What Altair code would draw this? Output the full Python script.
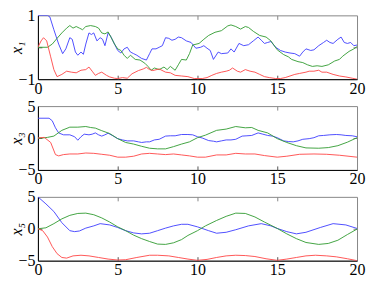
import altair as alt
import pandas as pd

X_TICKS = [0, 5, 10, 15, 20]
Y1_TICKS = [-1, 0, 1]
Y35_TICKS = [-5, 0, 5]
SERIES = ["blue", "green", "red"]
COLORS = ["#3c3cff", "#2f9a2f", "#ff4545"]

blue1 = [(0,1),(0.6,1),(0.75,0.95),(1.0,0.55),(1.3,0.1),(1.55,-0.2),(1.75,-0.05),(2.0,0.3),(2.15,0.25),(2.35,-0.15),(2.5,-0.25),(2.7,-0.15),(2.85,-0.22),(3.0,0.1),(3.2,0.45),(3.35,0.4),(3.5,0.45),(3.7,0.2),(3.9,0.3),(4.05,0.25),(4.2,0.05),(4.4,0.45),(4.55,0.35),(4.8,0.1),(5.0,-0.1),(5.2,-0.18),(5.4,-0.05),(5.6,0.0),(5.8,-0.15),(6.0,-0.2),(6.2,-0.25),(6.5,-0.35),(6.8,-0.4),(7.0,-0.2),(7.15,-0.05),(7.4,-0.05),(7.6,0.0),(7.8,0.05),(8.0,0.3),(8.2,0.28),(8.4,0.22),(8.6,0.25),(8.8,0.32),(9.0,0.3),(9.3,0.2),(9.6,0.15),(9.9,-0.03),(10.2,0.0),(10.4,0.05),(10.6,-0.03),(10.8,-0.1),(11.0,-0.38),(11.3,-0.15),(11.5,-0.2),(11.9,-0.18),(12.1,-0.05),(12.3,-0.15),(12.6,0.12),(12.9,0.05),(13.2,0.08),(13.5,0.2),(13.8,0.32),(14.0,0.22),(14.2,0.12),(14.4,0.15),(14.6,0.18),(14.9,0.0),(15.2,-0.1),(15.5,-0.15),(15.8,-0.18),(16.1,-0.2),(16.4,-0.28),(16.6,-0.15),(16.8,-0.05),(17.1,-0.1),(17.3,-0.08),(17.6,0.05),(17.9,0.15),(18.1,0.22),(18.3,0.15),(18.5,0.12),(18.8,0.25),(19.0,0.32),(19.2,0.15),(19.4,0.12),(19.6,0.15),(19.8,0.05),(20,0.07)]
green1 = [(0,0),(0.6,0),(0.9,0.1),(1.2,0.28),(1.5,0.45),(1.8,0.6),(2.0,0.68),(2.2,0.6),(2.4,0.65),(2.6,0.6),(2.8,0.55),(3.0,0.65),(3.3,0.68),(3.6,0.65),(3.8,0.6),(4.0,0.45),(4.2,0.42),(4.4,0.48),(4.6,0.3),(4.8,0.1),(5.0,-0.05),(5.2,-0.1),(5.4,-0.25),(5.6,-0.35),(5.8,-0.25),(6.1,-0.38),(6.4,-0.4),(6.7,-0.5),(6.9,-0.6),(7.1,-0.72),(7.3,-0.65),(7.6,-0.7),(7.9,-0.62),(8.1,-0.7),(8.3,-0.6),(8.6,-0.72),(8.8,-0.55),(9.0,-0.38),(9.3,-0.4),(9.5,-0.2),(9.7,0.07),(10.1,0.12),(10.4,0.25),(10.7,0.37),(11.1,0.47),(11.5,0.52),(11.9,0.67),(12.1,0.7),(12.4,0.65),(12.7,0.57),(13.0,0.65),(13.2,0.62),(13.5,0.5),(13.9,0.37),(14.3,0.32),(14.6,0.2),(15.0,-0.08),(15.4,-0.23),(15.7,-0.3),(15.9,-0.38),(16.3,-0.45),(16.6,-0.48),(16.9,-0.55),(17.2,-0.6),(17.5,-0.58),(17.8,-0.6),(18.2,-0.55),(18.6,-0.43),(18.9,-0.38),(19.1,-0.28),(19.5,-0.13),(19.8,-0.05),(20,0.02)]
red1 = [(0,0),(0.2,0.2),(0.35,0.3),(0.55,0.2),(0.8,-0.3),(1.0,-0.7),(1.2,-0.92),(1.5,-0.85),(1.8,-0.75),(2.1,-0.78),(2.4,-0.8),(2.7,-0.72),(3.0,-0.7),(3.2,-0.62),(3.4,-0.75),(3.6,-0.88),(3.8,-0.82),(4.0,-0.78),(4.3,-0.88),(4.5,-0.93),(4.8,-0.97),(5.0,-0.98),(5.3,-0.95),(5.6,-0.97),(5.9,-0.83),(6.3,-0.73),(6.6,-0.68),(6.8,-0.63),(7.0,-0.7),(7.2,-0.73),(7.6,-0.68),(8.0,-0.78),(8.3,-0.8),(8.6,-0.88),(9.0,-0.9),(9.4,-0.92),(9.8,-0.98),(10.3,-0.98),(10.6,-0.95),(10.9,-0.88),(11.2,-0.82),(11.5,-0.78),(11.8,-0.75),(12.0,-0.72),(12.2,-0.65),(12.5,-0.75),(12.7,-0.78),(13.0,-0.7),(13.3,-0.75),(13.6,-0.78),(13.9,-0.85),(14.2,-0.92),(14.5,-0.95),(14.9,-0.98),(15.2,-0.98),(15.5,-0.95),(15.8,-0.9),(16.1,-0.85),(16.4,-0.82),(16.8,-0.78),(17.0,-0.75),(17.3,-0.75),(17.6,-0.72),(17.8,-0.78),(18.1,-0.78),(18.5,-0.85),(18.9,-0.9),(19.3,-0.93),(19.7,-0.97),(20,-1.0)]

blue3 = [(0,3.1),(0.7,3.1),(0.9,2.7),(1.1,1.6),(1.3,0.8),(1.6,0.5),(2.0,0.5),(2.3,0.2),(2.5,-0.35),(2.7,0.2),(2.9,0.6),(3.2,0.5),(3.4,0.6),(3.6,0.8),(3.8,0.5),(4.0,0.3),(4.2,0.5),(4.4,0.75),(4.7,0.35),(5.0,-0.1),(5.3,-0.3),(5.6,-0.45),(6.0,-0.45),(6.3,-0.6),(6.5,-0.7),(6.8,-0.6),(7.0,-0.6),(7.3,-0.3),(7.6,-0.2),(8.0,0.3),(8.3,0.35),(8.6,0.35),(9.0,0.55),(9.4,0.55),(9.7,0.5),(10.0,0.2),(10.3,0.0),(10.7,-0.4),(11.0,-0.5),(11.2,-0.6),(11.5,-0.45),(11.8,-0.3),(12.1,-0.3),(12.4,-0.2),(12.8,0.3),(13.1,0.35),(13.4,0.4),(13.8,0.8),(14.1,0.6),(14.4,0.4),(14.7,0.3),(15.0,0.05),(15.4,-0.45),(15.7,-0.55),(16.0,-0.6),(16.3,-0.45),(16.6,-0.2),(17.0,-0.1),(17.3,0.05),(17.6,0.35),(17.9,0.4),(18.3,0.5),(18.7,0.55),(19.0,0.5),(19.3,0.4),(19.7,0.35),(20,0.2)]
green3 = [(0,0),(0.3,0),(0.6,0.1),(1.0,0.3),(1.5,1.2),(2.0,1.7),(2.5,1.7),(3.0,1.8),(3.3,1.65),(3.6,1.55),(4.0,1.15),(4.5,0.7),(5.0,-0.1),(5.5,-0.7),(6.0,-0.95),(6.5,-1.3),(7.0,-1.6),(7.5,-1.7),(8.0,-1.7),(8.5,-1.35),(9.0,-0.95),(9.5,-0.6),(10.0,0.05),(10.5,0.45),(11.2,1.2),(11.8,1.4),(12.4,1.8),(13.0,1.6),(13.4,1.65),(13.8,1.2),(14.4,0.8),(15.0,-0.1),(15.6,-0.7),(16.2,-1.2),(16.8,-1.55),(17.6,-1.6),(18.2,-1.5),(18.8,-1.2),(19.4,-0.65),(20,0.05)]
red3 = [(0,0),(0.4,0.1),(0.8,-0.7),(1.1,-2.6),(1.3,-2.8),(1.6,-2.6),(2.0,-2.5),(2.5,-2.5),(3.0,-2.35),(3.5,-2.4),(4.0,-2.55),(4.5,-2.7),(5.0,-3.0),(5.5,-3.0),(6.0,-2.85),(6.5,-2.5),(7.0,-2.4),(7.5,-2.5),(8.0,-2.6),(8.5,-2.5),(9.0,-2.65),(9.5,-2.8),(10.0,-3.0),(10.5,-3.0),(11.2,-2.65),(11.8,-2.65),(12.4,-2.4),(13.0,-2.5),(13.6,-2.5),(14.2,-2.75),(15.0,-3.0),(15.6,-2.85),(16.4,-2.55),(17.3,-2.5),(18.1,-2.55),(18.9,-2.7),(20,-3.0)]

blue5 = [(0,5),(0.5,3.9),(1.0,2.7),(1.5,0.95),(2.0,-0.3),(2.3,-0.45),(2.6,-0.35),(3.0,0.1),(3.5,0.45),(3.9,0.8),(4.5,0.6),(5.0,0.2),(5.5,-0.3),(6.0,-0.65),(6.5,-0.8),(7.0,-0.7),(7.5,-0.3),(8.0,0.1),(8.5,0.45),(9.0,0.7),(9.4,0.7),(10.0,0.3),(10.7,-0.3),(11.2,-0.7),(11.8,-0.55),(12.4,-0.15),(13.2,0.45),(14.0,0.8),(14.6,0.45),(15.0,0.05),(15.6,-0.45),(16.2,-0.8),(16.8,-0.55),(17.7,0.2),(18.5,0.8),(19.3,0.6),(20,0.05)]
green5 = [(0,0),(0.5,0.15),(1.0,0.8),(1.5,1.55),(2.0,2.1),(2.5,2.4),(3.0,2.45),(3.5,2.2),(4.0,1.7),(4.5,1.05),(5.0,0.3),(5.5,-0.3),(6.0,-1.0),(6.5,-1.55),(7.0,-2.0),(7.5,-2.4),(8.0,-2.45),(8.5,-2.2),(9.0,-1.7),(9.4,-1.05),(10.0,-0.3),(10.5,0.45),(11.2,1.3),(11.8,1.95),(12.4,2.45),(13.0,2.4),(13.6,1.85),(14.2,1.05),(15.0,0.05),(15.6,-0.8),(16.2,-1.55),(16.8,-2.15),(17.6,-2.45),(18.2,-2.3),(18.8,-1.8),(19.4,-0.9),(20,-0.05)]
red5 = [(0,0),(0.3,-0.3),(0.6,-1.3),(0.9,-2.8),(1.2,-3.9),(1.5,-4.5),(1.8,-4.6),(2.2,-4.25),(2.7,-4.15),(3.2,-4.25),(3.8,-4.5),(4.4,-4.75),(5.0,-4.9),(5.5,-4.85),(6.2,-4.5),(7.0,-4.15),(7.5,-4.15),(8.2,-4.25),(8.8,-4.5),(9.4,-4.75),(10.0,-4.95),(10.6,-4.8),(11.2,-4.5),(11.8,-4.25),(12.4,-4.15),(13.0,-4.2),(13.6,-4.35),(14.3,-4.7),(15.0,-4.95),(15.6,-4.75),(16.2,-4.5),(16.8,-4.25),(17.4,-4.15),(18.1,-4.25),(18.7,-4.4),(19.4,-4.7),(20,-5.0)]

SERIF = "Liberation Serif"


def frame(b, g, r):
    rows = []
    for name, pts in zip(SERIES, (b, g, r)):
        for t, v in pts:
            rows.append({"t": t, "v": v, "s": name})
    return pd.DataFrame(rows)


def panel(df, ydom, yticks, title, h):
    xs = alt.Scale(domain=[0, 20], nice=False, zero=False)
    ys = alt.Scale(domain=ydom, nice=False, zero=False)
    color = alt.Color("s:N", scale=alt.Scale(domain=SERIES, range=COLORS), legend=None)
    main = alt.Chart(df).mark_line(strokeWidth=0.9, clip=True).encode(
        x=alt.X("t:Q", scale=xs, axis=alt.Axis(
            values=X_TICKS, format="d", title=None, grid=False, tickSize=0,
            domainColor="black", domainWidth=1, labelFont=SERIF, labelFontSize=16,
            labelColor="black", labelPadding=1, labelFlush=False)),
        y=alt.Y("v:Q", scale=ys, axis=alt.Axis(
            values=yticks, format="d", title=title, grid=False, tickSize=0,
            domainColor="black", domainWidth=1, labelFont=SERIF, labelFontSize=16,
            labelColor="black", labelPadding=3, labelFlush=False, titleFont=SERIF,
            titleFontSize=16, titleFontStyle="italic", titleFontWeight="normal",
            titleColor="black", titlePadding=-5, minExtent=18, maxExtent=18)),
        color=color,
    )
    inner_bl = alt.Chart(df).mark_line(opacity=0).encode(
        x=alt.X("t:Q", scale=xs, axis=alt.Axis(
            orient="bottom", offset=-4, values=X_TICKS[1:-1], labels=False, domain=False,
            tickSize=4, tickColor="#555", title=None, grid=False)),
        y=alt.Y("v:Q", scale=ys, axis=alt.Axis(
            orient="left", offset=-4, values=yticks[1:-1], labels=False, domain=False,
            tickSize=4, tickColor="#555", title=None, grid=False)),
        detail="s:N",
    )
    inner_tr = alt.Chart(df).mark_line(opacity=0).encode(
        x=alt.X("t:Q", scale=xs, axis=alt.Axis(
            orient="top", offset=-4, values=X_TICKS[1:-1], labels=False, domain=False,
            tickSize=4, tickColor="#888", title=None, grid=False)),
        y=alt.Y("v:Q", scale=ys, axis=alt.Axis(
            orient="right", offset=-4, values=yticks[1:-1], labels=False, domain=False,
            tickSize=4, tickColor="#888", title=None, grid=False)),
        detail="s:N",
    )
    return alt.layer(main, inner_bl, inner_tr).resolve_axis(
        x="independent", y="independent").properties(width=320, height=h)


p1 = panel(frame(blue1, green1, red1), [-1, 1], Y1_TICKS, "x₁", 64)
p3 = panel(frame(blue3, green3, red3), [-5, 5], Y35_TICKS, "x₃", 64)
p5 = panel(frame(blue5, green5, red5), [-5, 5], Y35_TICKS, "x₅", 64)

chart = alt.vconcat(p1, p3, p5, spacing=27, bounds="flush").properties(
    padding={"left": 0, "top": -2, "right": 0, "bottom": 0},
    background="white",
).configure(font=SERIF).configure_view(stroke="#888", strokeWidth=1).configure_axis(
    labelFont=SERIF, labelFontSize=16, titleFont=SERIF
)

chart.save("out.html", embed_options={"renderer": "svg", "actions": False})
